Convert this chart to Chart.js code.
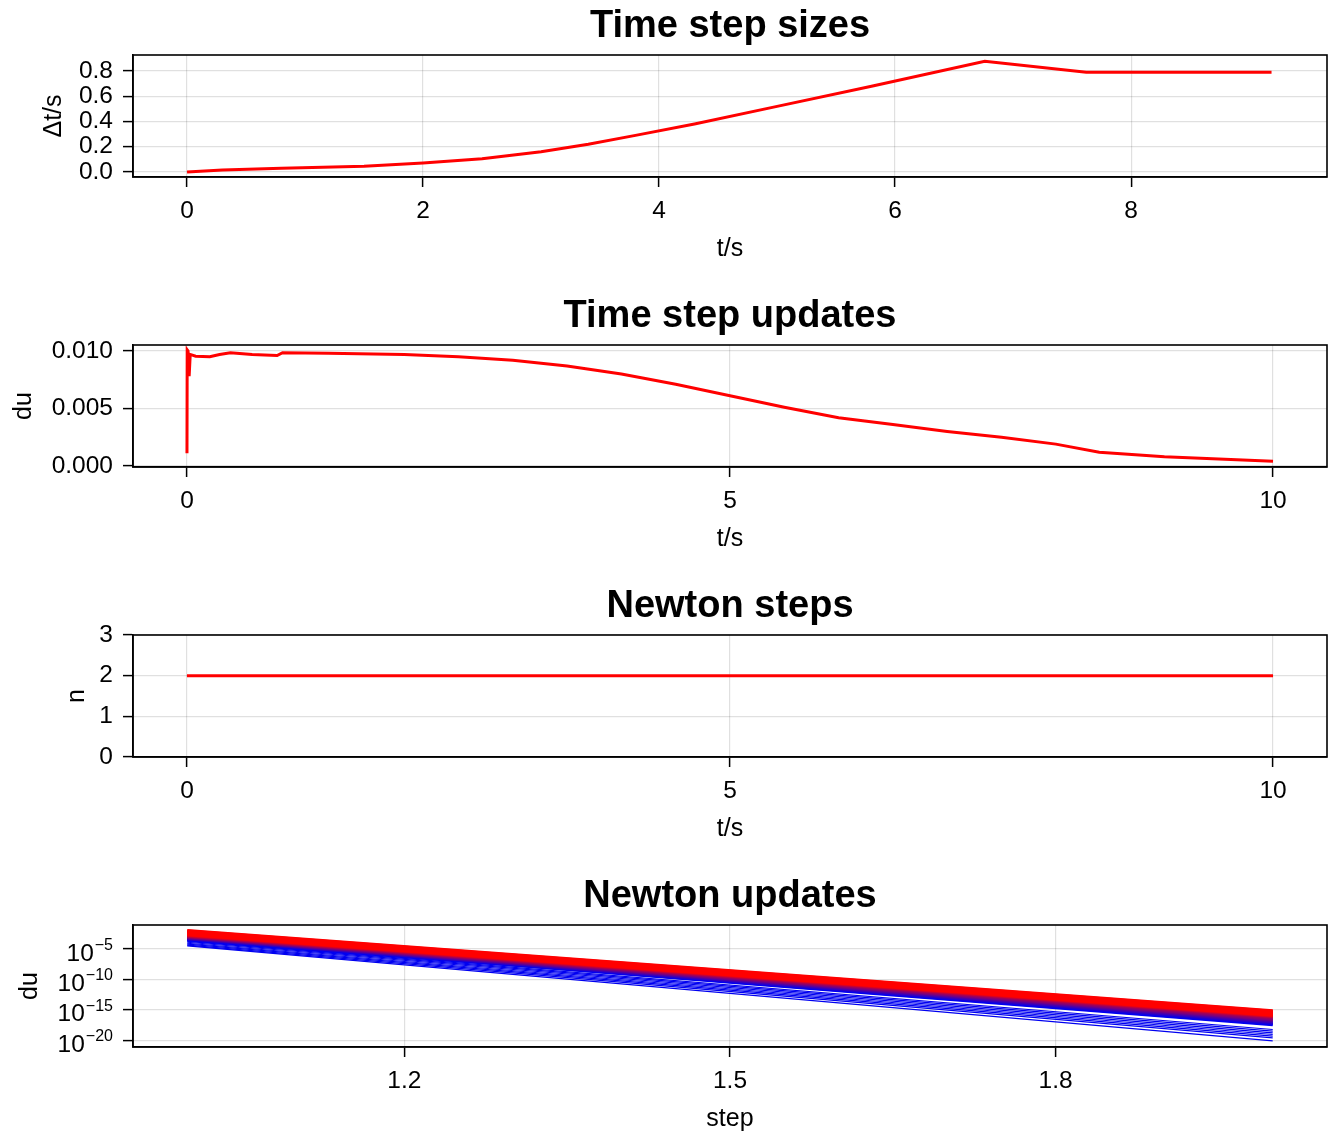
<!DOCTYPE html>
<html>
<head>
<meta charset="utf-8">
<script src="https://cdn.jsdelivr.net/npm/chart.js@4.4.1/dist/chart.umd.min.js"></script>
<style>
  html, body { margin: 0; padding: 0; background: #fff; }
  #wrap { position: relative; width: 1330px; height: 1134px; }
  canvas { position: absolute; left: 0; }
</style>
</head>
<body>
<div id="wrap">
  <canvas id="c1" width="1330" height="264" style="top:0px"></canvas>
  <canvas id="c2" width="1330" height="264" style="top:290px"></canvas>
  <canvas id="c3" width="1330" height="264" style="top:580px"></canvas>
  <canvas id="c4" width="1330" height="264" style="top:870px"></canvas>
</div>
<script>
// time step sizes
const stepTimes = [0, 0.3, 0.8, 1.5, 2.0, 2.5, 3.0, 3.4, 3.8, 4.3, 5.0, 5.8, 6.76, 7.62, 8.4, 9.19];
const stepSizes = [0.0, 0.015, 0.03, 0.045, 0.07, 0.105, 0.16, 0.22, 0.29, 0.38, 0.52, 0.68, 0.878, 0.79, 0.79, 0.79];

// time step updates
const updateTimes = [0, 0.002, 0.01, 0.02, 0.03, 0.08, 0.21, 0.3, 0.4, 0.6, 0.83, 0.88, 1.3, 2.0, 2.5, 3.0, 3.5, 4.0, 4.5, 5.0, 5.5, 6.0, 6.5, 7.0, 7.5, 8.0, 8.4, 9.0, 9.5, 10.0];
const updateDu = [0.0011, 0.0101, 0.0100, 0.0078, 0.0097, 0.00955, 0.0095, 0.0097, 0.00985, 0.0097, 0.0096, 0.00985, 0.0098, 0.0097, 0.0095, 0.0092, 0.0087, 0.0080, 0.0071, 0.0061, 0.0051, 0.0042, 0.0036, 0.0030, 0.0025, 0.0019, 0.0012, 0.0008, 0.0006, 0.0004];

// newton steps
const newtonTimes = [0, 1, 2, 3, 4, 5, 6, 7, 8, 9, 10];
const newtonCounts = [2, 2, 2, 2, 2, 2, 2, 2, 2, 2, 2];

// newton updates: du at step 1 and step 2 for every time step
const newtonSteps = [1, 2];
const newtonStartDu = [
  1.2e-2, 1.0e-2, 8.5e-3, 7e-3, 6e-3, 5e-3, 4.2e-3, 3.6e-3, 3e-3, 2.6e-3, 2.2e-3, 1.9e-3, 1.6e-3, 1.4e-3,
  1.2e-3, 1.0e-3, 8.5e-4, 7.2e-4, 6.2e-4, 5.3e-4, 4.6e-4, 4e-4, 3.5e-4, 3e-4,
  2.5e-4, 1.8e-4, 1.3e-4, 9e-5, 6.5e-5, 4.5e-5, 3.2e-5
];
const newtonEndDu = [
  8e-16, 6.5e-16, 5.5e-16, 4.5e-16, 3.8e-16, 3.2e-16, 2.7e-16, 2.2e-16, 1.8e-16, 1.5e-16, 1.25e-16, 1.05e-16, 9e-17, 7.5e-17,
  6e-17, 4.2e-17, 3e-17, 2.2e-17, 1.6e-17, 1.15e-17, 8.5e-18, 6e-18, 4.3e-18, 3.2e-18,
  6e-19, 3.2e-19, 1.7e-19, 9e-20, 4.8e-20, 2.5e-20, 8e-21
];

// tick labels
const ticksX1 = [0, 2, 4, 6, 8];
const ticksY1 = [0, 0.2, 0.4, 0.6, 0.8];
const ticksX2 = [0, 5, 10];
const ticksY2 = [0, 0.005, 0.01];
const ticksY3 = [0, 1, 2, 3];
const ticksX4 = [1.2, 1.5, 1.8];
const ticksY4 = [1e-20, 1e-15, 1e-10, 1e-5];

const FONT = '"Liberation Sans", Arial, sans-serif';
Chart.defaults.font.family = FONT;
Chart.defaults.color = '#000';

const frame = {
  id: 'frame',
  afterDatasetsDraw(chart) {
    const { ctx, chartArea: a } = chart;
    ctx.save();
    ctx.strokeStyle = '#000';
    ctx.lineWidth = 1.6;
    ctx.strokeRect(a.left, a.top, a.right - a.left, a.bottom - a.top);
    ctx.restore();
  }
};

// power-of-ten labels with a raised exponent
const powLabels = {
  id: 'powLabels',
  afterDraw(chart) {
    const { ctx } = chart;
    const s = chart.scales.y;
    ctx.save();
    ctx.fillStyle = '#000';
    ticksY4.forEach(v => {
      const y = s.getPixelForValue(v);
      const exp = '\u2212' + String(-Math.round(Math.log10(v)));
      ctx.font = '16px ' + FONT;
      ctx.textAlign = 'right';
      ctx.textBaseline = 'alphabetic';
      const ew = ctx.measureText(exp).width;
      ctx.fillText(exp, 113, y + 1);
      ctx.font = '24.5px ' + FONT;
      ctx.fillText('10', 113 - ew - 1, y + 11.5);
    });
    ctx.restore();
  }
};

const grid = { color: 'rgba(0,0,0,0.12)', lineWidth: 1.2, tickColor: '#000', tickLength: 10, tickWidth: 1.5 };
const border = { color: '#000', width: 1.6 };

function xAxis(min, max, ticks, label, fmt) {
  return {
    type: 'linear', min, max,
    afterBuildTicks: s => { s.ticks = ticks.map(v => ({ value: v })); },
    ticks: { font: { size: 24.5 }, padding: 10, maxRotation: 0, autoSkip: false, callback: v => fmt(v) },
    grid, border,
    title: { display: true, text: label, font: { size: 25, lineHeight: 1.0 }, padding: { top: 0, bottom: 2.6 } }
  };
}

function yAxis(min, max, ticks, label, titlePad, fmt, type) {
  return {
    type: type || 'linear', min, max,
    afterBuildTicks: s => { s.ticks = ticks.map(v => ({ value: v })); },
    afterFit: s => { s.width = 133; },
    ticks: { font: { size: 24.5 }, padding: 10, autoSkip: false, callback: v => fmt(v) },
    grid, border,
    title: { display: true, text: label, font: { size: 25 }, padding: { top: titlePad, bottom: 0 } }
  };
}

function options(title, scales) {
  return {
    responsive: false,
    animation: false,
    layout: { padding: { left: 0, right: 3, top: 0, bottom: 0 } },
    plugins: {
      legend: { display: false },
      tooltip: { enabled: false },
      title: {
        display: true, fullSize: false, text: title,
        font: { size: 38, weight: 'bold' }, padding: { top: 3.7, bottom: 5.7 }
      }
    },
    elements: { point: { radius: 0 }, line: { tension: 0 } },
    scales
  };
}

const xy = (xs, ys) => xs.map((x, i) => ({ x, y: ys[i] }));

new Chart(document.getElementById('c1'), {
  type: 'line',
  data: { datasets: [{ data: xy(stepTimes, stepSizes), borderColor: 'rgb(255,0,0)', borderWidth: 3 }] },
  options: options('Time step sizes', {
    x: xAxis(-0.458, 9.66, ticksX1, 't/s', v => String(v)),
    y: yAxis(-0.04, 0.927, ticksY1, 'Δt/s', 39, v => v.toFixed(1))
  }),
  plugins: [frame]
});

new Chart(document.getElementById('c2'), {
  type: 'line',
  data: { datasets: [{ data: xy(updateTimes, updateDu), borderColor: 'rgb(255,0,0)', borderWidth: 3 }] },
  options: options('Time step updates', {
    x: xAxis(-0.497, 10.497, ticksX2, 't/s', v => String(v)),
    y: yAxis(-0.00009, 0.01052, ticksY2, 'du', 9, v => v.toFixed(3))
  }),
  plugins: [frame]
});

new Chart(document.getElementById('c3'), {
  type: 'line',
  data: { datasets: [{ data: xy(newtonTimes, newtonCounts), borderColor: 'rgb(255,0,0)', borderWidth: 3 }] },
  options: options('Newton steps', {
    x: xAxis(-0.497, 10.497, ticksX2, 't/s', v => String(v)),
    y: yAxis(0, 3, ticksY3, 'n', 62, v => String(v))
  }),
  plugins: [frame]
});

const newtonSets = newtonStartDu.map((d0, i) => {
  const t = i < 10 ? 0 : Math.min(1, (i - 10) / 12);
  const r = Math.round(255 * (1 - t)), b = Math.round(240 * t);
  return {
    data: xy(newtonSteps, [d0, newtonEndDu[i]]),
    borderColor: `rgb(${r},0,${b})`,
    borderWidth: i < 24 ? 2.5 : 1.2
  };
});

new Chart(document.getElementById('c4'), {
  type: 'line',
  data: { datasets: newtonSets },
  options: options('Newton updates', {
    x: xAxis(0.95, 2.05, ticksX4, 'step', v => v.toFixed(1)),
    y: yAxis(Math.pow(10, -21.1), Math.pow(10, -1.05), ticksY4, 'du', 15, () => '', 'logarithmic')
  }),
  plugins: [frame, powLabels]
});
</script>
</body>
</html>
